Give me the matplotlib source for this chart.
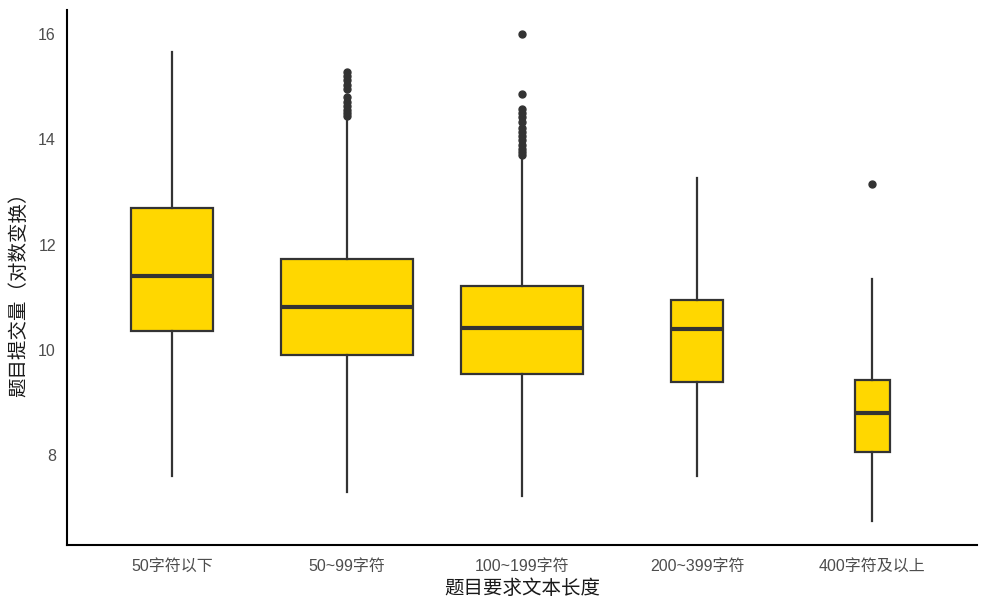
import matplotlib
matplotlib.use("Agg")
import matplotlib.pyplot as plt

plt.rcParams['font.family'] = ['Noto Sans CJK SC', 'DejaVu Sans']

categories = ["50字符以下", "50~99字符", "100~199字符", "200~399字符", "400字符及以上"]
q1 = [10.36, 9.91, 9.54, 9.39, 8.06]
median = [11.40, 10.81, 10.42, 10.39, 8.80]
q3 = [12.69, 11.72, 11.21, 10.94, 9.43]
whislo = [7.60, 7.30, 7.22, 7.60, 6.75]
whishi = [15.66, 14.35, 13.67, 13.27, 11.35]
box_widths = [0.47, 0.75, 0.70, 0.30, 0.20]
outliers = [
    [],
    [15.28, 15.20, 15.12, 15.03, 14.95, 14.80, 14.72, 14.64, 14.56, 14.50, 14.45],
    [16.00, 14.86, 14.58, 14.50, 14.42, 14.34, 14.22, 14.14, 14.06, 13.98, 13.90, 13.82, 13.76, 13.70],
    [],
    [13.16],
]

stats = []
for i in range(len(categories)):
    stats.append(dict(med=median[i], q1=q1[i], q3=q3[i], whislo=whislo[i],
                      whishi=whishi[i], fliers=outliers[i], label=categories[i]))

fig = plt.figure(figsize=(9.91, 6.12), dpi=100)
ax = fig.add_axes([67/991, 67/612, (977-67)/991, (545-10)/612])

dark = "#333333"
positions = list(range(1, len(categories) + 1))
ax.bxp(stats, positions=positions, widths=box_widths, patch_artist=True, showcaps=False,
       boxprops=dict(facecolor="#FFD700", edgecolor=dark, linewidth=1.6),
       medianprops=dict(color=dark, linewidth=3.0, solid_capstyle='butt'),
       whiskerprops=dict(color=dark, linewidth=1.6),
       flierprops=dict(marker='o', markerfacecolor=dark, markeredgecolor=dark, markersize=5))

ax.set_xlim(0.4, 5.6)
ax.set_ylim(6.29, 16.46)
ax.set_yticks([8, 10, 12, 14, 16])
ax.set_xticks(positions)
ax.set_xticklabels(categories)
tick_family = ['Liberation Sans', 'Noto Sans CJK SC']
for lab in ax.get_xticklabels() + ax.get_yticklabels():
    lab.set_family(tick_family)
ax.tick_params(axis='both', length=0, labelsize=11.5, colors="#4D4D4D", pad=8)
ax.tick_params(axis='x', pad=10)

for s in ['top', 'right']:
    ax.spines[s].set_visible(False)
for s in ['left', 'bottom']:
    ax.spines[s].set_linewidth(1.5)
    ax.spines[s].set_color('black')

ax.set_xlabel("题目要求文本长度", fontsize=14, color="#1a1a1a", labelpad=3)
ax.set_ylabel("题目提交量（对数变换）", fontsize=14, color="#1a1a1a")
ax.yaxis.set_label_coords(-0.041, 0.477)

fig.savefig("out.png", dpi=100)
